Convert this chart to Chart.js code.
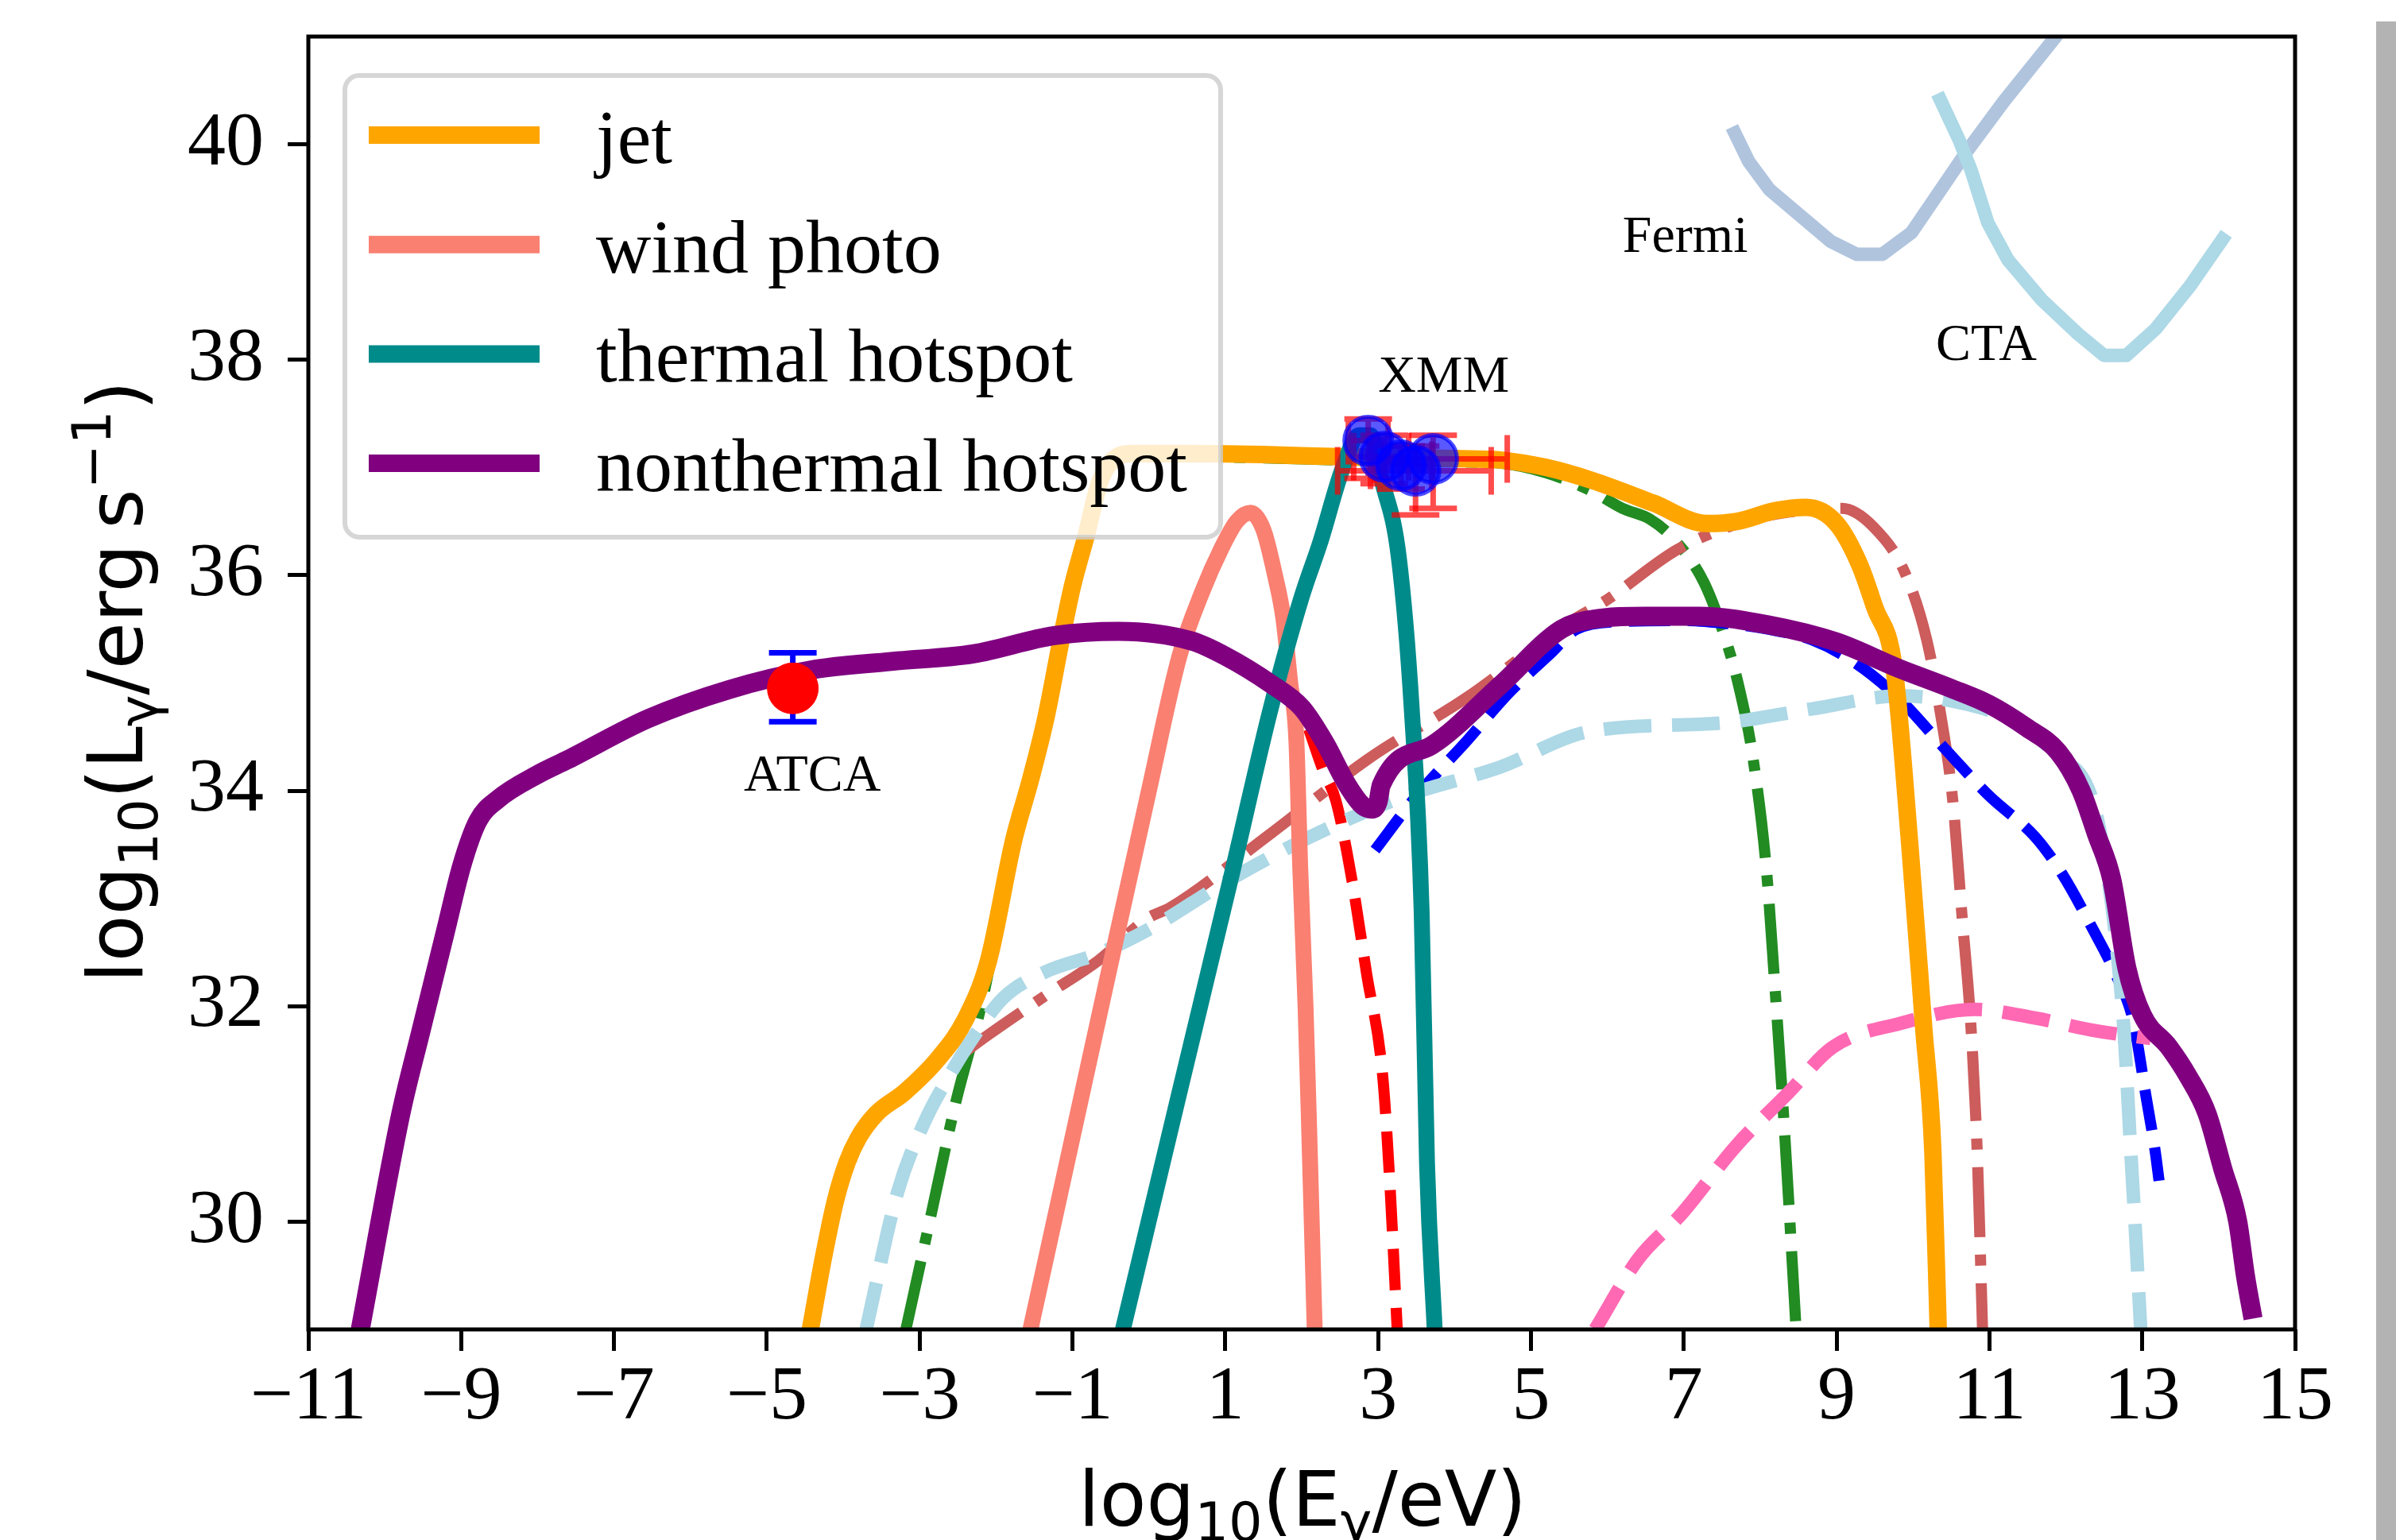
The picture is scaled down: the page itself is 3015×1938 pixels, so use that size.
<!DOCTYPE html>
<html>
<head>
<meta charset="utf-8">
<script src="https://cdn.jsdelivr.net/npm/chart.js@4.4.1/dist/chart.umd.min.js"></script>
<style>
  html, body { margin: 0; padding: 0; background: #fff; }
  #wrap { position: relative; width: 3015px; height: 1938px; overflow: hidden; }
  #edge { position: absolute; left: 2990px; top: 27px; width: 25px; height: 1911px; background: #b3b3b3; }
</style>
</head>
<body>
<div id="wrap">
  <canvas id="sed" width="3015" height="1938"></canvas>
  <div id="edge"></div>
</div>
<script>
// axis ticks
var xTicks = [-11, -9, -7, -5, -3, -1, 1, 3, 5, 7, 9, 11, 13, 15];
var yTicks = [30, 32, 34, 36, 38, 40];

// total model curves (log10 E, log10 L)
var jetX = [-4.43, -4.25, -4.1, -3.95, -3.8, -3.57, -3.2, -2.75, -2.4, -2.1, -1.77, -1.55, -1.35, -1.14, -1.0, -0.82, -0.65, -0.5, -0.2, 0.5, 1.5, 2.5, 3.5, 4.2, 4.6, 5.2, 5.8, 6.6, 7.3, 7.7, 8.2, 8.6, 9.0, 9.3, 9.5, 9.75, 9.96, 10.14, 10.26, 10.33];
var jetY = [29.0, 29.7, 30.2, 30.55, 30.78, 31.0, 31.2, 31.52, 31.88, 32.42, 33.54, 34.1, 34.67, 35.43, 35.9, 36.37, 36.85, 37.05, 37.13, 37.13, 37.12, 37.1, 37.09, 37.08, 37.07, 37.0, 36.88, 36.67, 36.48, 36.5, 36.6, 36.63, 36.48, 36.1, 35.7, 35.15, 33.48, 31.8, 30.65, 29.0];

var windX = [-1.55, -1.0, -0.5, 0.0, 0.4, 0.7, 0.95, 1.15, 1.33, 1.5, 1.65, 1.76, 1.85, 1.93, 1.98, 2.05, 2.1, 2.17];
var windY = [29.0, 30.78, 32.4, 34.0, 35.25, 35.85, 36.25, 36.5, 36.58, 36.42, 36.0, 35.6, 35.0, 34.47, 33.3, 32.0, 30.8, 29.0];

var thermX = [-0.34, 0.4, 1.09, 1.59, 2.0, 2.24, 2.54, 2.75, 2.9, 3.05, 3.27, 3.44, 3.57, 3.64, 3.74];
var thermY = [29.0, 31.2, 33.24, 34.75, 35.8, 36.3, 37.0, 37.3, 37.3, 36.88, 36.17, 34.76, 32.87, 30.54, 29.0];

var nonthX = [-10.32, -9.79, -9.53, -9.2, -8.99, -8.78, -8.52, -8.0, -7.6, -6.55, -5.49, -4.43, -3.37, -2.3, -1.24, -0.4, 0.56, 1.0, 1.6, 2.0, 2.3, 2.6, 2.8, 2.92, 3.0, 3.04, 3.7, 4.6, 5.4, 5.8, 6.5, 7.2, 8.1, 9.0, 9.8, 10.5, 11.0, 11.5, 11.9, 12.2, 12.4, 12.6, 12.8, 13.0, 13.35, 13.6, 13.85, 14.05, 14.25, 14.35, 14.45];
var nonthY = [29.0, 31.0, 31.76, 32.71, 33.31, 33.72, 33.92, 34.15, 34.29, 34.67, 34.94, 35.12, 35.2, 35.27, 35.44, 35.48, 35.39, 35.25, 34.99, 34.77, 34.45, 34.05, 33.86, 33.83, 33.9, 34.05, 34.42, 34.98, 35.5, 35.59, 35.62, 35.62, 35.54, 35.38, 35.14, 34.95, 34.8, 34.58, 34.36, 34.0, 33.6, 33.18, 32.35, 31.92, 31.62, 31.35, 31.0, 30.5, 30.0, 29.5, 29.1];

// components
var greenX = [-3.18, -2.87, -2.53, -2.18, -1.77, -1.55, -1.35, -1.14, -1.0, -0.82, -0.65, -0.5, -0.2, 0.5, 1.5, 2.5, 3.5, 4.2, 4.6, 5.2, 5.8, 6.2, 6.56, 6.85, 7.26, 7.55, 7.72, 7.9, 8.08, 8.19, 8.31, 8.47];
var greenY = [29.0, 30.0, 31.1, 32.05, 33.5, 34.07, 34.64, 35.4, 35.87, 36.34, 36.82, 37.02, 37.1, 37.1, 37.09, 37.07, 37.06, 37.05, 37.04, 36.95, 36.78, 36.62, 36.52, 36.35, 35.94, 35.4, 34.97, 34.33, 33.28, 32.21, 30.94, 29.0];

var icX = [-2.42, -2.11, -1.35, -0.65, -0.03, 0.29, 1.59, 2.88, 4.17, 5.47, 5.99, 6.92, 7.8, 8.31, 9.07, 9.48, 9.89, 10.18, 10.35, 10.52, 10.64, 10.76, 10.84, 10.91];
var icY = [31.57, 31.73, 32.1, 32.43, 32.81, 32.92, 33.6, 34.3, 34.87, 35.55, 35.77, 36.24, 36.5, 36.58, 36.62, 36.45, 36.03, 35.4, 34.76, 33.91, 32.85, 31.79, 30.65, 29.0];

var redX = [1.6, 2.0, 2.28, 2.45, 2.66, 2.85, 3.06, 3.15, 3.25];
var redY = [34.97, 34.72, 34.19, 33.9, 33.16, 32.3, 31.35, 30.4, 29.0];

var blueX = [2.96, 3.5, 4.17, 4.7, 5.25, 5.6, 6.2, 7.0, 7.6, 8.1, 8.68, 9.26, 9.84, 10.43, 11.0, 11.6, 11.95, 12.35, 12.65, 12.88, 13.05, 13.17, 13.22];
var blueY = [33.45, 33.95, 34.47, 34.9, 35.27, 35.5, 35.57, 35.58, 35.55, 35.5, 35.4, 35.18, 34.84, 34.38, 33.95, 33.57, 33.23, 32.72, 32.3, 31.87, 31.16, 30.65, 30.38];

var lbX = [-3.7, -3.29, -2.94, -2.59, -2.28, -1.9, -1.35, -0.65, 0.04, 1.0, 2.02, 3.31, 4.6, 5.76, 7.51, 8.68, 9.84, 10.72, 11.3, 11.89, 12.35, 12.55, 12.65, 12.76, 12.85, 12.92, 12.98];
var lbY = [29.0, 30.27, 30.92, 31.38, 31.73, 32.08, 32.32, 32.49, 32.73, 33.15, 33.54, 33.94, 34.22, 34.55, 34.63, 34.76, 34.88, 34.8, 34.65, 34.33, 33.91, 33.2, 32.64, 31.79, 30.65, 29.8, 29.0];

var pinkX = [5.84, 6.4, 6.98, 7.68, 8.36, 8.95, 9.83, 10.81, 11.6, 12.33, 13.11];
var pinkY = [29.0, 29.65, 30.08, 30.7, 31.19, 31.62, 31.84, 31.97, 31.89, 31.78, 31.7];

// instrument sensitivities
var fermiX = [7.63, 7.85, 8.12, 8.92, 9.26, 9.6, 9.98, 10.71, 11.19, 11.87, 12.1];
var fermiY = [40.16, 39.84, 39.58, 39.1, 38.98, 38.98, 39.18, 39.94, 40.4, 41.0, 41.3];
var ctaX = [10.32, 10.61, 10.76, 10.98, 11.24, 11.68, 12.16, 12.5, 12.79, 13.18, 13.62, 14.1];
var ctaY = [40.47, 40.03, 39.76, 39.27, 38.93, 38.56, 38.24, 38.04, 38.04, 38.29, 38.68, 39.17];

// observations
var atcaX = [-4.66];
var atcaY = [34.95];
var atcaLo = [34.64];
var atcaHi = [35.28];

var xmmX = [2.87, 3.08, 3.3, 3.49, 3.72];
var xmmY = [37.25, 37.1, 37.02, 36.97, 37.08];
var xmmXlo = [2.61, 2.68, 2.9, 2.47, 2.95];
var xmmXhi = [3.13, 3.4, 3.7, 4.48, 4.69];
var xmmYlo = [36.9, 36.85, 36.8, 36.56, 36.62];
var xmmYhi = [37.45, 37.3, 37.2, 37.2, 37.3];

var legendLabels = ['jet', 'wind photo', 'thermal hotspot', 'nonthermal hotspot'];
var legendColors = ['#FFA500', '#FA8072', '#008B8B', '#800080'];

var notes = [
  {text: 'Fermi', x: 6.2, y: 39.0},
  {text: 'CTA', x: 10.3, y: 38.0},
  {text: 'XMM', x: 3.0, y: 37.7},
  {text: 'ATCA', x: -5.3, y: 34.0}
];

function pts(xs, ys) {
  return xs.map(function (x, i) { return {x: x, y: ys[i]}; });
}

function fmt(v) {
  return v < 0 ? '\u2212' + Math.abs(v) : String(v);
}

function curve(label, xs, ys, color, width, dash, smooth) {
  return {
    label: label,
    data: pts(xs, ys),
    showLine: true,
    borderColor: color,
    borderWidth: width,
    borderDash: dash || [],
    borderCapStyle: 'butt',
    borderJoinStyle: 'round',
    pointRadius: 0,
    fill: false,
    clip: 0,
    cubicInterpolationMode: smooth ? 'monotone' : 'default',
    tension: 0
  };
}

var dashed = [52, 22];
var dashDot = [88, 22, 14, 22];

function richText(ctx, parts, size, x, y) {
  var total = 0;
  parts.forEach(function (p) {
    ctx.font = Math.round(size * (p.s || 1)) + 'px "DejaVu Sans"';
    p.w = ctx.measureText(p.t).width;
    total += p.w;
  });
  var cx = x - total / 2;
  parts.forEach(function (p) {
    ctx.font = Math.round(size * (p.s || 1)) + 'px "DejaVu Sans"';
    ctx.fillText(p.t, cx, y + (p.dy || 0) * size);
    cx += p.w;
  });
}

var decor = {
  id: 'decor',
  beforeDatasetDraw: function (chart, args) {
    var ds = chart.data.datasets[args.index];
    var sx = chart.scales.x, sy = chart.scales.y, ctx = chart.ctx;
    ctx.save();
    ctx.lineCap = 'butt';
    if (ds.label === 'ATCA') {
      ctx.strokeStyle = '#0000ff';
      ctx.lineWidth = 7;
      atcaX.forEach(function (x, i) {
        var px = sx.getPixelForValue(x);
        var lo = sy.getPixelForValue(atcaLo[i]), hi = sy.getPixelForValue(atcaHi[i]);
        ctx.beginPath();
        ctx.moveTo(px, lo); ctx.lineTo(px, hi);
        ctx.moveTo(px - 30, lo); ctx.lineTo(px + 30, lo);
        ctx.moveTo(px - 30, hi); ctx.lineTo(px + 30, hi);
        ctx.stroke();
      });
    }
    if (ds.label === 'XMM') {
      ctx.strokeStyle = 'rgba(255,0,0,0.7)';
      ctx.lineWidth = 7;
      xmmX.forEach(function (x, i) {
        var px = sx.getPixelForValue(x), py = sy.getPixelForValue(xmmY[i]);
        var x0 = sx.getPixelForValue(xmmXlo[i]), x1 = sx.getPixelForValue(xmmXhi[i]);
        var y0 = sy.getPixelForValue(xmmYlo[i]), y1 = sy.getPixelForValue(xmmYhi[i]);
        ctx.beginPath();
        ctx.moveTo(x0, py); ctx.lineTo(x1, py);
        ctx.moveTo(x0, py - 30); ctx.lineTo(x0, py + 30);
        ctx.moveTo(x1, py - 30); ctx.lineTo(x1, py + 30);
        ctx.moveTo(px, y0); ctx.lineTo(px, y1);
        ctx.moveTo(px - 30, y0); ctx.lineTo(px + 30, y0);
        ctx.moveTo(px - 30, y1); ctx.lineTo(px + 30, y1);
        ctx.stroke();
      });
    }
    ctx.restore();
  },
  afterDatasetsDraw: function (chart) {
    var ctx = chart.ctx, a = chart.chartArea;
    var sx = chart.scales.x, sy = chart.scales.y;
    ctx.save();
    // annotations
    ctx.fillStyle = '#000';
    ctx.font = '66px "Liberation Serif"';
    ctx.textAlign = 'left';
    ctx.textBaseline = 'alphabetic';
    notes.forEach(function (n) {
      ctx.fillText(n.text, sx.getPixelForValue(n.x), sy.getPixelForValue(n.y));
    });
    // frame
    ctx.strokeStyle = '#000';
    ctx.lineWidth = 5;
    ctx.strokeRect(a.left, a.top, a.right - a.left, a.bottom - a.top);
    // legend
    var bx = 434, by = 95, bw = 1102, bh = 581, r = 18;
    ctx.beginPath();
    ctx.moveTo(bx + r, by);
    ctx.arcTo(bx + bw, by, bx + bw, by + bh, r);
    ctx.arcTo(bx + bw, by + bh, bx, by + bh, r);
    ctx.arcTo(bx, by + bh, bx, by, r);
    ctx.arcTo(bx, by, bx + bw, by, r);
    ctx.closePath();
    ctx.fillStyle = 'rgba(255,255,255,0.8)';
    ctx.fill();
    ctx.strokeStyle = 'rgba(204,204,204,0.8)';
    ctx.lineWidth = 6;
    ctx.stroke();
    ctx.font = '96px "Liberation Serif"';
    legendLabels.forEach(function (lab, i) {
      var ly = 170 + i * 137.7;
      ctx.strokeStyle = legendColors[i];
      ctx.lineWidth = 22;
      ctx.lineCap = 'butt';
      ctx.beginPath();
      ctx.moveTo(464, ly); ctx.lineTo(679, ly);
      ctx.stroke();
      ctx.fillStyle = '#000';
      ctx.fillText(lab, 750, ly + 35);
    });
    ctx.restore();
  },
  afterDraw: function (chart) {
    var ctx = chart.ctx;
    ctx.save();
    ctx.fillStyle = '#000';
    ctx.textBaseline = 'alphabetic';
    richText(ctx, [
      {t: 'log'}, {t: '10', s: 0.7, dy: 0.2}, {t: '(E'}, {t: '\u03b3', s: 0.7, dy: 0.2}, {t: '/eV)'}
    ], 96, 1639, 1920);
    ctx.translate(179, 858);
    ctx.rotate(-Math.PI / 2);
    richText(ctx, [
      {t: 'log'}, {t: '10', s: 0.7, dy: 0.2}, {t: '(L'}, {t: '\u03b3', s: 0.7, dy: 0.2},
      {t: '/erg\u2009s'}, {t: '\u22121', s: 0.7, dy: -0.42}, {t: ')'}
    ], 96, 0, 0);
    ctx.restore();
  }
};

var tickFont = {family: '"Liberation Serif"', size: 96};

new Chart(document.getElementById('sed'), {
  type: 'scatter',
  data: {
    datasets: [
      {
        label: 'ATCA',
        data: pts(atcaX, atcaY),
        pointRadius: 32,
        pointBackgroundColor: '#ff0000',
        pointBorderColor: '#ff0000',
        pointBorderWidth: 1,
        clip: false
      },
      {
        label: 'XMM',
        data: pts(xmmX, xmmY),
        pointRadius: 30,
        pointBackgroundColor: 'rgba(0,0,255,0.65)',
        pointBorderColor: 'rgba(0,0,255,0.7)',
        pointBorderWidth: 5,
        clip: false
      },
      curve('nonthermal hotspot', nonthX, nonthY, '#800080', 24, null, true),
      curve('thermal hotspot', thermX, thermY, '#008B8B', 20, null, true),
      curve('wind photo', windX, windY, '#FA8072', 20, null, true),
      curve('jet', jetX, jetY, '#FFA500', 22, null, true),
      curve('pink', pinkX, pinkY, '#FF69B4', 17, [60, 26], true),
      curve('lightblue', lbX, lbY, '#ADD8E6', 17, [60, 26], true),
      curve('blue', blueX, blueY, '#0000FF', 14, dashed, true),
      curve('red', redX, redY, '#FF0000', 14, dashed, true),
      curve('ic', icX, icY, '#CD5C5C', 14, dashDot, true),
      curve('green', greenX, greenY, '#228B22', 14, dashDot, true),
      curve('CTA', ctaX, ctaY, '#ADD8E6', 17, null, false),
      curve('Fermi', fermiX, fermiY, '#B0C4DE', 17, null, false)
    ]
  },
  options: {
    responsive: false,
    animation: false,
    devicePixelRatio: 1,
    layout: {padding: {top: 46, right: 127, left: 0, bottom: 0}},
    plugins: {legend: {display: false}, tooltip: {enabled: false}},
    scales: {
      x: {
        type: 'linear',
        min: -11,
        max: 15,
        afterBuildTicks: function (s) { s.ticks = xTicks.map(function (v) { return {value: v}; }); },
        afterFit: function (s) { s.height = 265; s.paddingLeft = 0; s.paddingRight = 0; },
        grid: {drawOnChartArea: false, drawTicks: true, tickLength: 27, tickWidth: 5, tickColor: '#000'},
        border: {display: false},
        ticks: {font: tickFont, color: '#000', padding: 2, maxRotation: 0, autoSkip: false, callback: fmt}
      },
      y: {
        type: 'linear',
        min: 29,
        max: 41,
        afterBuildTicks: function (s) { s.ticks = yTicks.map(function (v) { return {value: v}; }); },
        afterFit: function (s) { s.width = 388; s.paddingTop = 0; s.paddingBottom = 0; },
        grid: {drawOnChartArea: false, drawTicks: true, tickLength: 26, tickWidth: 5, tickColor: '#000'},
        border: {display: false},
        ticks: {font: tickFont, color: '#000', padding: 30, autoSkip: false, callback: fmt}
      }
    }
  },
  plugins: [decor]
});
</script>
</body>
</html>
